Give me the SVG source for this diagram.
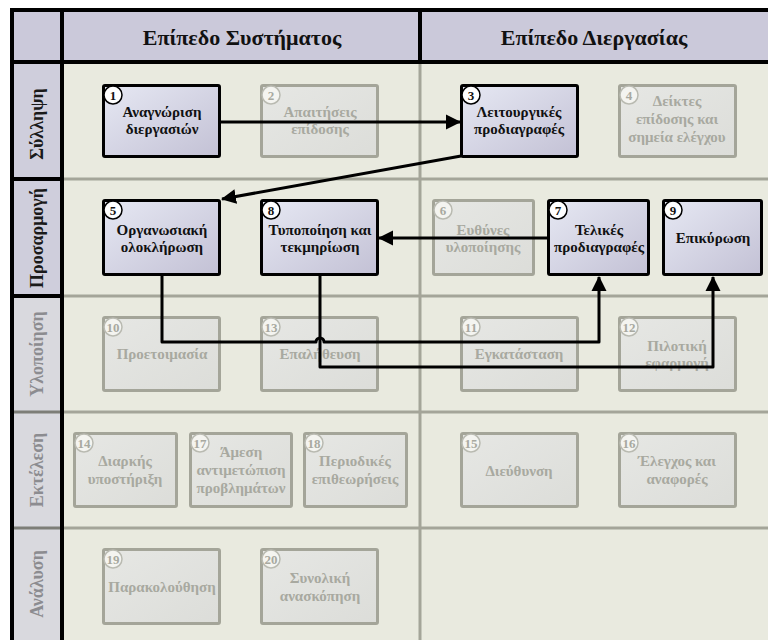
<svg xmlns="http://www.w3.org/2000/svg" width="768" height="640" viewBox="0 0 768 640">
  <style>
    .lbl { font-family: "Liberation Serif", "DejaVu Serif", serif; font-weight: bold; text-anchor: middle; }
    .node-t { font-size: 15px; }
    .num { font-size: 13px; }
    .act rect { fill: url(#gAct); stroke: #000; stroke-width: 3; }
    .act circle { fill: #fff; stroke: #000; stroke-width: 1.5; }
    .act text { fill: #111; }
    .ina rect { fill: url(#gIna); stroke: #a4a599; stroke-width: 3; }
    .ina circle { fill: #f4f4f0; stroke: #b9bab1; stroke-width: 1.5; }
    .ina text { fill: #a8a9a0; }
    .grid { stroke: #a4a599; stroke-width: 3; fill: none; }
    .frame { stroke: #000; stroke-width: 4; fill: none; }
    .conn { stroke: #000; stroke-width: 3; fill: none; stroke-linejoin: round; }
    .title { font-size: 22px; fill: #111; }
    .row { font-size: 18px; }
  </style>
  <defs>
    <linearGradient id="gAct" x1="0" y1="0" x2="1" y2="1">
      <stop offset="0" stop-color="#e6e8f3"/>
      <stop offset="1" stop-color="#c3c1d5"/>
    </linearGradient>
    <linearGradient id="gIna" x1="0" y1="0" x2="1" y2="1">
      <stop offset="0" stop-color="#e6e7e4"/>
      <stop offset="1" stop-color="#dcddd9"/>
    </linearGradient>
    <marker id="arr" markerUnits="userSpaceOnUse" markerWidth="16" markerHeight="16" refX="14" refY="8" orient="auto">
      <path d="M0,0.5 L15,8 L0,15.5 z" fill="#000"/>
    </marker>
  </defs>

  <!-- background -->
  <rect x="0" y="0" width="768" height="640" fill="#fff"/>
  <rect x="62" y="62" width="706" height="578" fill="#e9eadf"/>

  <!-- header band -->
  <rect x="10" y="10" width="758" height="52" fill="#cbc9da"/>
  <!-- row header cells -->
  <rect x="10" y="62" width="52" height="117" fill="#cfcedc"/>
  <rect x="10" y="179" width="52" height="117" fill="#cfcedc"/>
  <rect x="10" y="296" width="52" height="116" fill="#d9d9de"/>
  <rect x="10" y="412" width="52" height="116" fill="#d9d9de"/>
  <rect x="10" y="528" width="52" height="112" fill="#d9d9de"/>

  <!-- grid lines -->
  <g id="grid">
    <path class="grid" d="M62,179 H768 M62,296 H768 M62,412 H768 M62,528 H768 M420,62 V640"/>
    <path d="M10,412 H62 M10,528 H62" stroke="#7d7e77" stroke-width="3"/>
    <path class="frame" d="M10,10 H768 M10,62 H768 M12,10 V640 M62,10 V640 M420,10 V62 M10,179 H62 M10,296 H62"/>
  </g>

  <!-- column titles -->
  <text class="lbl title" x="242" y="45">Επίπεδο Συστήματος</text>
  <text class="lbl title" x="594" y="45">Επίπεδο Διεργασίας</text>

  <!-- row titles -->
  <text class="lbl row" fill="#1a1a1a" transform="translate(43,124) rotate(-90)">Σύλληψη</text>
  <text class="lbl row" fill="#1a1a1a" transform="translate(43,238) rotate(-90)">Προσαρμογή</text>
  <text class="lbl row" fill="#8c8c90" transform="translate(43,354) rotate(-90)">Υλοποίηση</text>
  <text class="lbl row" fill="#8c8c90" transform="translate(43,470) rotate(-90)">Εκτέλεση</text>
  <text class="lbl row" fill="#8c8c90" transform="translate(43,584) rotate(-90)">Ανάλυση</text>

  <!-- nodes -->
  <g id="n1" class="act">
    <rect x="103.5" y="85.5" width="116" height="71" rx="1.5"/>
    <circle cx="113" cy="95" r="9"/>
    <text class="lbl num" x="113" y="99.5">1</text>
    <text class="lbl node-t" x="162" y="117">Αναγνώριση</text>
    <text class="lbl node-t" x="162" y="134">διεργασιών</text>
  </g>
  <g id="n2" class="ina">
    <rect x="261.5" y="85.5" width="116" height="71" rx="1.5"/>
    <circle cx="271" cy="95" r="9"/>
    <text class="lbl num" x="271" y="99.5">2</text>
    <text class="lbl node-t" x="320" y="117">Απαιτήσεις</text>
    <text class="lbl node-t" x="320" y="134">επίδοσης</text>
  </g>
  <g id="n3" class="act">
    <rect x="461.5" y="85.5" width="116" height="71" rx="1.5"/>
    <circle cx="471" cy="95" r="9"/>
    <text class="lbl num" x="471" y="99.5">3</text>
    <text class="lbl node-t" x="519" y="117">Λειτουργικές</text>
    <text class="lbl node-t" x="519" y="134">προδιαγραφές</text>
  </g>
  <g id="n4" class="ina">
    <rect x="619.5" y="85.5" width="116" height="71" rx="1.5"/>
    <circle cx="629" cy="95" r="9"/>
    <text class="lbl num" x="629" y="99.5">4</text>
    <text class="lbl node-t" x="677" y="106">Δείκτες</text>
    <text class="lbl node-t" x="677" y="124">επίδοσης και</text>
    <text class="lbl node-t" x="677" y="142">σημεία ελέγχου</text>
  </g>

  <g id="n5" class="act">
    <rect x="103.5" y="200.5" width="116" height="74" rx="1.5"/>
    <circle cx="113" cy="210" r="9"/>
    <text class="lbl num" x="113" y="214.5">5</text>
    <text class="lbl node-t" x="162" y="235">Οργανωσιακή</text>
    <text class="lbl node-t" x="162" y="252">ολοκλήρωση</text>
  </g>
  <g id="n8" class="act">
    <rect x="261.5" y="200.5" width="116" height="74" rx="1.5"/>
    <circle cx="271" cy="210" r="9"/>
    <text class="lbl num" x="271" y="214.5">8</text>
    <text class="lbl node-t" x="320" y="235">Τυποποίηση και</text>
    <text class="lbl node-t" x="320" y="252">τεκμηρίωση</text>
  </g>
  <g id="n6" class="ina">
    <rect x="433.5" y="200.5" width="100" height="74" rx="1.5"/>
    <circle cx="443" cy="210" r="9"/>
    <text class="lbl num" x="443" y="214.5">6</text>
    <text class="lbl node-t" x="483" y="235">Ευθύνες</text>
    <text class="lbl node-t" x="483" y="252">υλοποίησης</text>
  </g>
  <g id="n7" class="act">
    <rect x="548.5" y="200.5" width="100" height="74" rx="1.5"/>
    <circle cx="558" cy="210" r="9"/>
    <text class="lbl num" x="558" y="214.5">7</text>
    <text class="lbl node-t" x="599" y="235">Τελικές</text>
    <text class="lbl node-t" x="599" y="252">προδιαγραφές</text>
  </g>
  <g id="n9" class="act">
    <rect x="663.5" y="200.5" width="98" height="74" rx="1.5"/>
    <circle cx="673" cy="210" r="9"/>
    <text class="lbl num" x="673" y="214.5">9</text>
    <text class="lbl node-t" x="713" y="243">Επικύρωση</text>
  </g>

  <g id="n10" class="ina">
    <rect x="103.5" y="317.5" width="116" height="73" rx="1.5"/>
    <circle cx="113" cy="327" r="9"/>
    <text class="lbl num" x="113" y="331.5">10</text>
    <text class="lbl node-t" x="162" y="359">Προετοιμασία</text>
  </g>
  <g id="n13" class="ina">
    <rect x="261.5" y="317.5" width="116" height="73" rx="1.5"/>
    <circle cx="271" cy="327" r="9"/>
    <text class="lbl num" x="271" y="331.5">13</text>
    <text class="lbl node-t" x="320" y="359">Επαλήθευση</text>
  </g>
  <g id="n11" class="ina">
    <rect x="461.5" y="317.5" width="116" height="73" rx="1.5"/>
    <circle cx="471" cy="327" r="9"/>
    <text class="lbl num" x="471" y="331.5">11</text>
    <text class="lbl node-t" x="519" y="359">Εγκατάσταση</text>
  </g>
  <g id="n12" class="ina">
    <rect x="619.5" y="317.5" width="116" height="73" rx="1.5"/>
    <circle cx="629" cy="327" r="9"/>
    <text class="lbl num" x="629" y="331.5">12</text>
    <text class="lbl node-t" x="677" y="351">Πιλοτική</text>
    <text class="lbl node-t" x="677" y="368">εφαρμογή</text>
  </g>

  <g id="n14" class="ina">
    <rect x="74.5" y="433.5" width="102" height="73" rx="1.5"/>
    <circle cx="84" cy="443" r="9"/>
    <text class="lbl num" x="84" y="447.5">14</text>
    <text class="lbl node-t" x="125" y="466">Διαρκής</text>
    <text class="lbl node-t" x="125" y="484">υποστήριξη</text>
  </g>
  <g id="n17" class="ina">
    <rect x="190.5" y="433.5" width="101" height="73" rx="1.5"/>
    <circle cx="200" cy="443" r="9"/>
    <text class="lbl num" x="200" y="447.5">17</text>
    <text class="lbl node-t" x="241" y="457">Άμεση</text>
    <text class="lbl node-t" x="241" y="475">αντιμετώπιση</text>
    <text class="lbl node-t" x="241" y="493">προβλημάτων</text>
  </g>
  <g id="n18" class="ina">
    <rect x="304.5" y="433.5" width="102" height="73" rx="1.5"/>
    <circle cx="314" cy="443" r="9"/>
    <text class="lbl num" x="314" y="447.5">18</text>
    <text class="lbl node-t" x="355" y="466">Περιοδικές</text>
    <text class="lbl node-t" x="355" y="484">επιθεωρήσεις</text>
  </g>
  <g id="n15" class="ina">
    <rect x="461.5" y="433.5" width="116" height="73" rx="1.5"/>
    <circle cx="471" cy="443" r="9"/>
    <text class="lbl num" x="471" y="447.5">15</text>
    <text class="lbl node-t" x="519" y="476">Διεύθυνση</text>
  </g>
  <g id="n16" class="ina">
    <rect x="619.5" y="433.5" width="116" height="73" rx="1.5"/>
    <circle cx="629" cy="443" r="9"/>
    <text class="lbl num" x="629" y="447.5">16</text>
    <text class="lbl node-t" x="677" y="466">Έλεγχος και</text>
    <text class="lbl node-t" x="677" y="484">αναφορές</text>
  </g>

  <g id="n19" class="ina">
    <rect x="103.5" y="549.5" width="116" height="74" rx="1.5"/>
    <circle cx="113" cy="559" r="9"/>
    <text class="lbl num" x="113" y="563.5">19</text>
    <text class="lbl node-t" x="162" y="592">Παρακολούθηση</text>
  </g>
  <g id="n20" class="ina">
    <rect x="261.5" y="549.5" width="116" height="74" rx="1.5"/>
    <circle cx="271" cy="559" r="9"/>
    <text class="lbl num" x="271" y="563.5">20</text>
    <text class="lbl node-t" x="320" y="583">Συνολική</text>
    <text class="lbl node-t" x="320" y="601">ανασκόπηση</text>
  </g>

  <!-- connectors -->
  <g id="connectors">
    <path class="conn" d="M221,122 H460" marker-end="url(#arr)"/>
    <path class="conn" d="M461,156 L222,199" marker-end="url(#arr)"/>
    <path class="conn" d="M547,238 H379" marker-end="url(#arr)"/>
    <path class="conn" d="M162,276 V342 H316 A4,4 0 0 1 324,342 H599 V277" marker-end="url(#arr)"/>
    <path class="conn" d="M320,276 V367 H713 V277" marker-end="url(#arr)"/>
  </g>
</svg>
